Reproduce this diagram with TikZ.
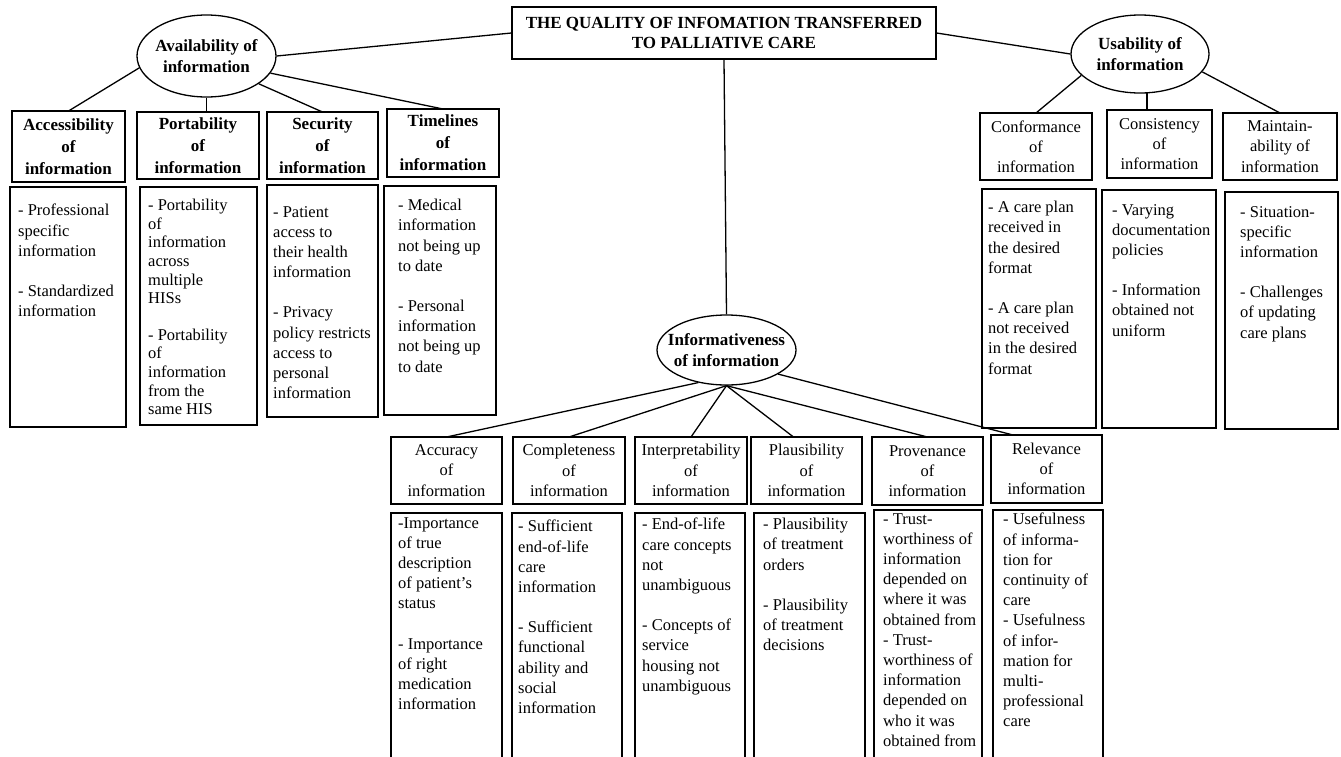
\documentclass[tikz,border=0pt]{standalone}
\usepackage{fontspec}
\setmainfont{Liberation Serif}
\usetikzlibrary{shapes.geometric}

\newcommand{\txtfont}{\fontsize{16.5}{20.2}\selectfont}
\newcommand{\bftxtfont}{\fontsize{17}{20.2}\selectfont\bfseries}

% heading box: [style]{name}{x1}{y1}{x2}{y2}{text}
\newcommand{\headbox}[7][head]{%
  \node[#1, minimum width={(#5-#3)*1pt}, minimum height={(#6-#4)*1pt}] (#2) at (#3,#4) {#7};}
% list box: [text options]{name}{x1}{y1}{x2}{y2}{dx}{dy}{text}
\newcommand{\listbox}[9][]{%
  \node[listframe, minimum width={(#5-#3)*1pt}, minimum height={(#6-#4)*1pt}] (#2) at (#3,#4) {};
  \node[listtext, #1] (#2-txt) at ([shift={(#7pt,-#8pt)}]#2.north west) {#9};}

\begin{document}
\begin{tikzpicture}[x=1pt, y=-1pt,
	every node/.style={font=\txtfont},
	head/.style={draw, line width=1.3pt, inner sep=0pt, outer sep=0pt, align=center, anchor=north west},
	headbf/.style={head, font=\fontsize{17}{22}\selectfont\bfseries},
	oval/.style={draw, ellipse, line width=1.3pt, inner sep=-12pt, align=center, font=\bftxtfont},
	listframe/.style={draw, line width=1.3pt, inner sep=0pt, outer sep=0pt, anchor=north west},
	listtext/.style={inner sep=0pt, align=left, anchor=north west},
	link/.style={line width=1.3pt}]

	\useasboundingbox (0,0) rectangle (1341,756);
	\clip (0,0) rectangle (1341,756);

	% root and the three groups
	\node[draw, line width=1.3pt, minimum width=424pt, minimum height=52pt, align=center, font=\bftxtfont] (title) at (724,33)
		{THE QUALITY OF INFOMATION TRANSFERRED\\TO PALLIATIVE CARE};
	\node[oval, minimum width=139pt, minimum height=82pt] (avail) at (206.5,56) {Availability of\\information};
	\node[oval, minimum width=138pt, minimum height=78pt] (usab) at (1140,54) {Usability of\\information};
	\node[oval, minimum width=139pt, minimum height=70pt] (info) at (726.5,350) {Informativeness\\of information};

	% availability
	\headbox[headbf]{acc}{12}{111}{125}{182}{Accessibility\\of\\information}
	\headbox[headbf]{port}{137}{112}{259}{179}{Portability\\of\\information}
	\headbox[headbf]{sec}{267}{112}{378}{179}{Security\\of\\information}
	\headbox[headbf]{time}{387}{109}{499}{177}{Timelines\\of\\information}

	\listbox{acc-list}{10}{187}{126}{427}{8}{17}{- Professional\\specific\\information\\[20pt]- Standardized\\information}
	\listbox[font=\fontsize{16.5}{18.6}\selectfont]{port-list}{140}{187}{257}{425}{8}{12}{- Portability\\of\\information\\across\\multiple\\HISs\\[18pt]- Portability\\of\\information\\from the\\same HIS}
	\listbox{sec-list}{267}{185}{378}{417}{6}{21}{- Patient\\access to\\their health\\information\\[20pt]- Privacy\\policy restricts\\access to\\personal\\information}
	\listbox{time-list}{384}{186}{496}{415}{14}{13}{- Medical\\information\\not being up\\to date\\[20pt]- Personal\\information\\not being up\\to date}

	% usability
	\headbox{conf}{980}{113}{1092}{180}{Conformance\\of\\information}
	\headbox{cons}{1107}{110}{1212}{178}{Consistency\\of\\information}
	\headbox{maint}{1223}{113}{1337}{180}{Maintain-\\ability of\\information}

	\listbox{conf-list}{982}{189}{1096}{428}{6}{12}{- A care plan\\received in\\the desired\\format\\[20pt]- A care plan\\not received\\in the desired\\format}
	\listbox{cons-list}{1102}{190}{1216}{428}{10}{14}{- Varying\\documentation\\policies\\[20pt]- Information\\obtained not\\uniform}
	\listbox{maint-list}{1225}{192}{1338}{429}{15}{14}{- Situation-\\specific\\information\\[20pt]- Challenges\\of updating\\care plans}

	% informativeness
	\headbox{accu}{391}{437}{502}{504}{Accuracy\\of\\information}
	\headbox{comp}{513}{437}{625}{504}{Completeness\\of\\information}
	\headbox{interp}{635}{437}{747}{504}{Interpretability\\of\\information}
	\headbox{plaus}{751}{437}{862}{504}{Plausibility\\of\\information}
	\headbox{prov}{872}{437}{983}{505}{Provenance\\of\\information}
	\headbox{relev}{991}{435}{1102}{503}{Relevance\\of\\information}

	\listbox{accu-list}{391}{513}{502}{764}{7}{4}{-Importance\\of true\\description\\of patient’s\\status\\[20pt]- Importance\\of right\\medication\\information}
	\listbox{comp-list}{512}{513}{622}{764}{6}{7}{- Sufficient\\end-of-life\\care\\information\\[20pt]- Sufficient\\functional\\ability and\\social\\information}
	\listbox{interp-list}{635}{513}{745}{764}{7}{5}{- End-of-life\\care concepts\\not\\unambiguous\\[20pt]- Concepts of\\service\\housing not\\unambiguous}
	\listbox{plaus-list}{754}{513}{865}{764}{9}{5}{- Plausibility\\of treatment\\orders\\[20pt]- Plausibility\\of treatment\\decisions}
	\listbox{prov-list}{874}{510}{982}{764}{9}{3}{- Trust-\\worthiness of\\information\\depended on\\where it was\\obtained from\\- Trust-\\worthiness of\\information\\depended on\\who it was\\obtained from}
	\listbox{relev-list}{993}{510}{1103}{764}{10}{3}{- Usefulness\\of informa-\\tion for\\continuity of\\care\\- Usefulness\\of infor-\\mation for\\multi-\\professional\\care}

	% connectors
	\draw[link] (title.west) -- (avail.east);
	\draw[link] (title.east) -- (usab.west);
	\draw[link] (title.south) -- (info.north);

	\draw[link] (avail.190) -- (acc.north);
	\draw[link] (avail.south) -- (avail.south |- port.north);
	\draw[link] (avail.-28) -- (sec.north);
	\draw[link] (avail.-15) -- (time.north);

	\draw[link] (usab.200) -- (conf.north);
	\draw[link] (usab.-80) -- (usab.-80 |- cons.north);
	\draw[link] (usab.-16) -- (maint.north);

	\draw[link] (info.229) -- (accu.north);
	\foreach \b in {comp,interp,prov}{
		\draw[link] (info.south) -- (\b.north);
	}
	\draw[link] (info.south) -- ([xshift=-13pt]plaus.north);
	\draw[link] (info.-25) -- ([xshift=22pt]relev.north west);

\end{tikzpicture}
\end{document}
